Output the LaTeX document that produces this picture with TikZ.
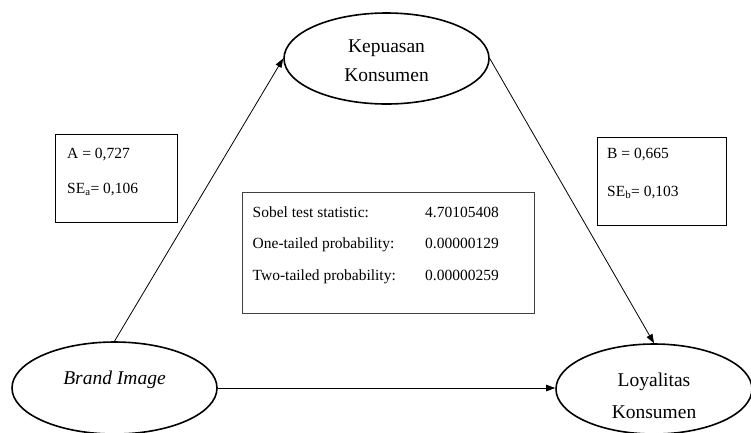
\documentclass[tikz,border=0pt]{standalone}
\usepackage{fontspec}
\setmainfont{Liberation Serif}
\usetikzlibrary{shapes.geometric,arrows.meta}
\begin{document}
\begin{tikzpicture}[x=1pt,y=-1pt,
  construct/.style={draw,ellipse,line width=1.6pt,inner sep=0pt},
  big/.style={font=\fontsize{19.5}{23}\selectfont,inner sep=0pt},
  small/.style={font=\fontsize{15.5}{18}\selectfont,inner sep=0pt,anchor=base west},
  statbox/.style={draw,line width=0.8pt,inner sep=0pt},
  link/.style={line width=0.8pt,-{Triangle[length=9pt,width=6.5pt]}}]
\useasboundingbox (0,0) rectangle (751,432);
% constructs
\node[construct,minimum width=205pt,minimum height=91pt] (kk) at (386.5,58.5) {};
\node[construct,minimum width=205pt,minimum height=92pt] (bi) at (114.5,388) {};
\node[construct,minimum width=196pt,minimum height=90pt] (ly) at (654,389) {};
\node[big,anchor=base] (kk1) at (386.5,52) {Kepuasan};
\node[big,anchor=base] (kk2) at (386.5,81) {Konsumen};
\node[big,anchor=base] (bit) at (114.5,384) {\itshape Brand Image};
\node[big,anchor=base] (ly1) at (654,386) {Loyalitas};
\node[big,anchor=base] (ly2) at (654,418) {Konsumen};
% connectors
\draw[link] (bi.north) -- (kk.west);
\draw[link] (kk.east) -- (ly.north);
\draw[link] (bi.east) -- (bi.east -| ly.west);
% boxes
\node[statbox,minimum width=122pt,minimum height=88pt] (boxa) at (116,178) {};
\node[small] (a1) at (67,158) {A = 0,727};
\node[small] (a2) at (67,193) {SE\textsubscript{a}= 0,106};
\node[statbox,minimum width=129pt,minimum height=88pt] (boxb) at (661.5,181) {};
\node[small] (b1) at (607,158) {B = 0,665};
\node[small] (b2) at (607,196) {SE\textsubscript{b}= 0,103};
\node[statbox,draw=black!75,minimum width=292pt,minimum height=121pt] (sob) at (388,252.5) {};
\node[small] (s1) at (252.5,217) {Sobel test statistic:};
\node[small] (s2) at (252.5,248) {One-tailed probability:};
\node[small] (s3) at (252.5,280) {Two-tailed probability:};
\node[small] (v1) at (425,217) {4.70105408};
\node[small] (v2) at (425,248) {0.00000129};
\node[small] (v3) at (425,280) {0.00000259};
\end{tikzpicture}
\end{document}
